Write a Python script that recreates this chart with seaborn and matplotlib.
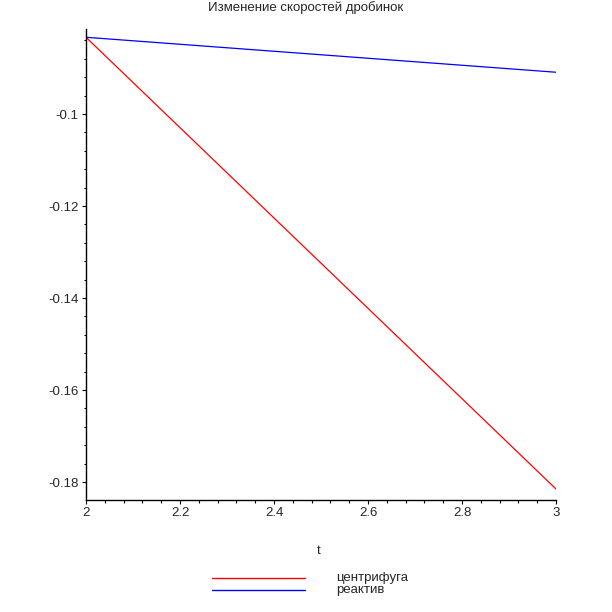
import matplotlib
matplotlib.use("Agg")
import matplotlib.pyplot as plt
import seaborn as sns
import pandas as pd
from matplotlib.ticker import MultipleLocator, FixedLocator
from matplotlib.lines import Line2D

sns.set_theme(style="white")
plt.rcParams['font.family'] = ['Liberation Sans', 'DejaVu Sans']

title = "Изменение скоростей дробинок"
x_label = "t"
series_names = ["центрифуга", "реактив"]
colors = ["#ff0000", "#0000ff"]

t_values = [2.0, 2.5, 3.0]
centrifuge = [-0.0833, -0.1324, -0.1815]
reactive = [-0.0833, -0.0871, -0.0909]

y_ticks = [-0.18, -0.16, -0.14, -0.12, -0.1]
y_tick_labels = ["-0.18", "-0.16", "-0.14", "-0.12", "-0.1"]
x_ticks = [2, 2.2, 2.4, 2.6, 2.8, 3]
x_tick_labels = ["2", "2.2", "2.4", "2.6", "2.8", "3"]

df = pd.DataFrame({
    "t": t_values * 2,
    "v": centrifuge + reactive,
    "series": [series_names[0]] * len(t_values) + [series_names[1]] * len(t_values),
})

fig = plt.figure(figsize=(6.12, 6.12), dpi=100)
ax = fig.add_axes([86 / 612, (612 - 500) / 612, (556 - 86) / 612, (500 - 29) / 612])

sns.lineplot(data=df, x="t", y="v", hue="series", palette=colors,
             hue_order=series_names, ax=ax, legend=False, linewidth=0.9,
             estimator=None, sort=False)

ax.set_xlim(2, 3)
ax.set_ylim(-0.1839, -0.0815)
ax.xaxis.set_major_locator(FixedLocator(x_ticks))
ax.set_xticklabels(x_tick_labels)
ax.xaxis.set_minor_locator(MultipleLocator(0.04))
ax.yaxis.set_major_locator(FixedLocator(y_ticks))
ax.set_yticklabels(y_tick_labels)
ax.yaxis.set_minor_locator(MultipleLocator(0.004))

for s in ["top", "right"]:
    ax.spines[s].set_visible(False)
for s in ["left", "bottom"]:
    ax.spines[s].set_color("black")
    ax.spines[s].set_linewidth(1.0)

ax.tick_params(axis="both", which="major", direction="out", length=3.2, width=0.8,
               color="black", labelsize=9.5, pad=2, left=True, bottom=True)
ax.tick_params(axis="both", which="minor", direction="out", length=1.8, width=0.8,
               color="black", left=True, bottom=True)
ax.set_xlabel("")
ax.set_ylabel("")

fig.text(0.5, 1 - 8 / 612, title, ha="center", va="center", fontsize=9.5)
fig.text(319 / 612, 1 - 551 / 612, x_label, ha="center", va="center", fontsize=9.5)

# legend
for i, (name, c) in enumerate(zip(series_names, colors)):
    yy = 1 - (578 + 12 * i) / 612
    fig.add_artist(Line2D([212 / 612, 305 / 612], [yy, yy], color=c, linewidth=1.0,
                          transform=fig.transFigure))
    fig.text(336 / 612, yy, name, ha="left", va="center", fontsize=9.5)

fig.savefig("out.png", dpi=100)
